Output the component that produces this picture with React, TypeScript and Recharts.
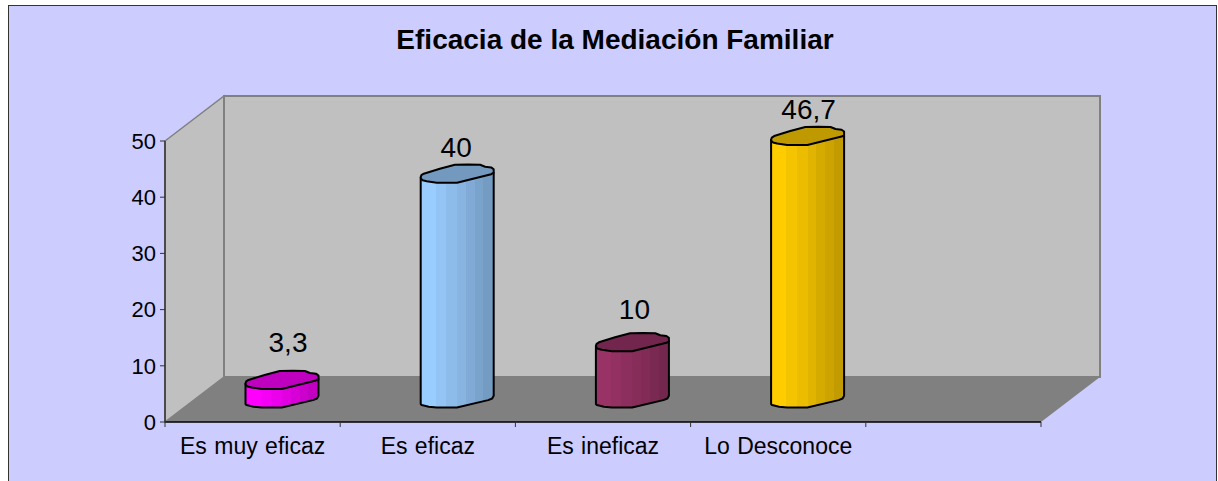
import React from "react";
import { BarChart, Bar, XAxis, YAxis, LabelList, Customized, usePlotArea } from "recharts";

const categories = ["Es muy eficaz", "Es eficaz", "Es ineficaz", "Lo Desconoce", ""];
const values: (number | null)[] = [3.3, 40, 10, 46.7, null];
const valueLabels = ["3,3", "40", "10", "46,7", ""];
const baseColors = ["#FF00FF", "#99CCFF", "#993366", "#FFCC00", "#000000"];
const yTicks = [0, 10, 20, 30, 40, 50];

const labelNudge = [{ dx: 6, dy: -5 }, { dx: -1, dy: 6 }, { dx: 2, dy: 0 }, { dx: 1, dy: 6 }, { dx: 0, dy: 0 }];

const data = categories.map((name, i) => ({ name, value: values[i], label: valueLabels[i], color: baseColors[i] }));

const FONT = "'Liberation Sans', Arial, sans-serif";
const DEPTH_X = 59;
const DEPTH_Y = 45;
const BAR_SHIFT_X = 29.5;
const BAR_SHIFT_Y = 23.5;

const stops = [0, 0.21, 0.35, 0.5, 0.62, 0.74, 0.86, 1];
const shades = [1, 0.96, 0.92, 0.88, 0.84, 0.8, 0.76];

function shade(hex: string, k: number) {
  const n = parseInt(hex.slice(1), 16);
  const c = [(n >> 16) & 255, (n >> 8) & 255, n & 255].map((v) => Math.round(v * k));
  return `rgb(${c[0]},${c[1]},${c[2]})`;
}

function Walls() {
  const p = usePlotArea();
  if (!p) return null;
  const l = p.x, r = p.x + p.width, t = p.y, b = p.y + p.height;
  return (
    <g>
      <polygon points={`${l},${t} ${l + DEPTH_X},${t - DEPTH_Y} ${l + DEPTH_X},${b - DEPTH_Y} ${l},${b}`} fill="#C0C0C0" stroke="#808080" strokeWidth={1.5} />
      <rect x={l + DEPTH_X} y={t - DEPTH_Y} width={r - l} height={b - t} fill="#C0C0C0" stroke="#808080" strokeWidth={2} />
      <polygon points={`${l},${b} ${r},${b} ${r + DEPTH_X},${b - DEPTH_Y} ${l + DEPTH_X},${b - DEPTH_Y}`} fill="#808080" />
    </g>
  );
}

function Cylinder(props: any) {
  const { x, y, width, height, index, payload } = props;
  if (payload.value == null) return null;
  const color = payload.color;
  const x0 = x + BAR_SHIFT_X;
  const top = y - BAR_SHIFT_Y;
  const bot = top + height;
  const w = width;
  const X = (f: number) => x0 + (f / 72.5) * w;
  const pts = (arr: number[][], cy: number) => arr.map(([a, b]) => `${X(a)},${cy + b}`);
  const body =
    "M" +
    [
      ...pts([[0, 4]], top),
      ...pts([[0, 5.5], [1, 6.6], [4, 7.2], [8, 8.2], [16, 9], [36, 9], [67, 1.6], [71, 0], [72.5, -2.7]], bot),
      ...pts([[72.5, -1]], top),
    ].join(" L") +
    " Z";
  const cap =
    "M" +
    pts(
      [[0, 3.5], [0.7, 1.5], [3, 0], [19, -5], [34, -9], [47, -9.3], [59, -9], [64, -7], [70, -6.3], [72.5, -4.5], [72.5, -1], [70, 0.5], [52, 5], [36, 9], [16, 9], [6, 7.5], [2, 6.5], [0.3, 5]],
      top
    ).join(" L") +
    " Z";
  const id = `cyl-${index}`;
  return (
    <g>
      <defs>
        <linearGradient id={id} x1="0" x2="1" y1="0" y2="0">
          {shades.map((s, i) => (
            <React.Fragment key={i}>
              <stop offset={stops[i]} stopColor={shade(color, s)} />
              <stop offset={stops[i + 1]} stopColor={shade(color, s)} />
            </React.Fragment>
          ))}
        </linearGradient>
      </defs>
      <path d={body} fill={`url(#${id})`} stroke="#000" strokeWidth={2} strokeLinejoin="round" />
      <path d={cap} fill={shade(color, 0.75)} stroke="#000" strokeWidth={2} strokeLinejoin="round" />
    </g>
  );
}

function ValueLabel(props: any) {
  const { x, y, width, index } = props;
  if (values[index] == null) return null;
  const n = labelNudge[index];
  return (
    <text x={x + BAR_SHIFT_X + width / 2 + n.dx} y={y - BAR_SHIFT_Y - 23 + n.dy} textAnchor="middle" fontFamily={FONT} fontSize={28} fill="#000">
      {valueLabels[index]}
    </text>
  );
}

function XTick(props: any) {
  const { x, y, payload, index } = props;
  const half = 175.2 / 2;
  return (
    <g>
      <line x1={x - half} x2={x - half} y1={y - 8} y2={y - 3} stroke="#333" strokeWidth={1} />
      {index === categories.length - 1 && <line x1={x + half} x2={x + half} y1={y - 8} y2={y - 3} stroke="#333" strokeWidth={1} />}
      <text x={x} y={y + 24} textAnchor="middle" fontFamily={FONT} fontSize={23} wordSpacing={1} fill="#000">
        {payload.value}
      </text>
    </g>
  );
}

export default function App() {
  return (
    <div style={{ position: "absolute", left: 0, top: 0, width: 1218, height: 481, background: "#fff", overflow: "hidden" }}>
      <div style={{ position: "absolute", left: 8, top: 5, width: 1209, height: 500, background: "#CCCCFF", border: "1.5px solid #333", boxSizing: "border-box" }} />
      <div style={{ position: "absolute", left: 0, top: 24, width: 1230, textAlign: "center", fontFamily: FONT, fontWeight: 700, fontSize: 28, color: "#000" }}>
        Eficacia de la Mediación Familiar
      </div>
      <div style={{ position: "absolute", left: 0, top: 0 }}>
        <BarChart width={1218} height={481} data={data} margin={{ left: 105, right: 177, top: 141, bottom: 29 }} barSize={73}>
          <Customized component={Walls} />
          <XAxis dataKey="name" interval={0} height={30} axisLine={{ stroke: "#000", strokeWidth: 1.5 }} tickLine={false} tick={<XTick />} />
          <YAxis width={60} domain={[0, 50]} ticks={yTicks} axisLine={{ stroke: "#333", strokeWidth: 1.5 }} tickLine={{ stroke: "#333" }} tickSize={5} tickMargin={4} tick={{ fontFamily: FONT, fontSize: 22, fill: "#000" }} />
          <Bar dataKey="value" isAnimationActive={false} shape={<Cylinder />}>
            <LabelList dataKey="label" content={<ValueLabel />} />
          </Bar>
        </BarChart>
      </div>
    </div>
  );
}
